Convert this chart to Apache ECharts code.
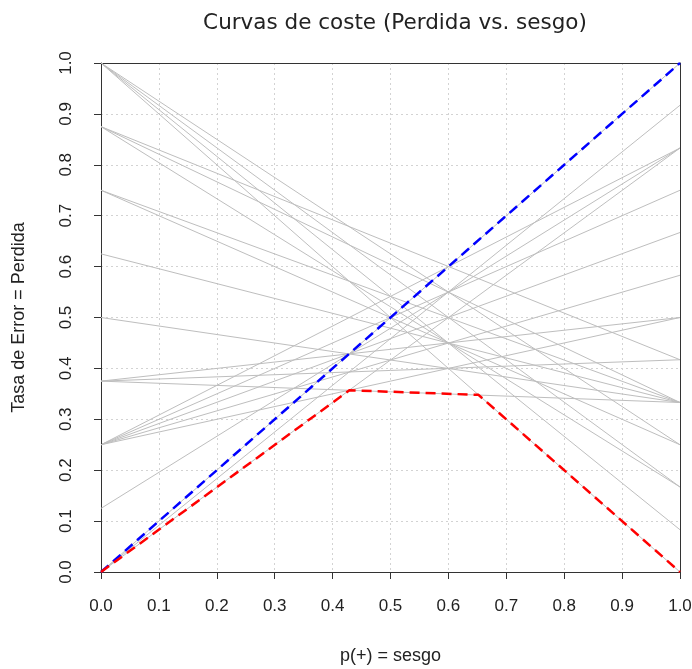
<!DOCTYPE html>
<html>
<head>
<meta charset="utf-8">
<script src="https://cdn.jsdelivr.net/npm/echarts@6/dist/echarts.min.js"></script>
<style>
  html, body { margin: 0; padding: 0; background: #fff; }
  #chart { width: 692px; height: 669px; }
</style>
</head>
<body>
<div id="chart"></div>
<script>
// Classifier operating points: loss at p(+)=0 (false positive rate)
// and at p(+)=1 (false negative rate).
const fprValues = [0, 1, 0, 0, 0.125, 0.25, 0.25, 0.25, 0.25, 0.25, 0.375, 0.375, 0.375,
                   0.5, 0.625, 0.75, 0.75, 0.875, 0.875, 0.875, 1, 1, 1];
const fnrValues = [1, 0, 0.833, 0.917, 0.833, 0.833, 0.75, 0.667, 0.583, 0.5, 0.5, 0.417, 0.333,
                   0.333, 0.333, 0.333, 0.25, 0.417, 0.333, 0.167, 0.25, 0.167, 0.083];

// Diagonal reference (always-negative classifier)
const diagX = [0, 1];
const diagY = [0, 1];

// Lower envelope of the cost curves
const envX = [0, 0.429, 0.652, 1];
const envY = [0, 0.357, 0.348, 0];

const chart = echarts.init(document.getElementById('chart'), null, { renderer: 'canvas' });

const series = [];
fprValues.forEach((a, i) => {
  series.push({
    type: 'line',
    data: [[0, a], [1, fnrValues[i]]],
    symbol: 'none',
    silent: true,
    lineStyle: { color: '#bebebe', width: 1 },
    z: 2
  });
});
series.push({
  type: 'line',
  data: diagX.map((x, i) => [x, diagY[i]]),
  symbol: 'none',
  silent: true,
  lineStyle: { color: '#0000ff', width: 2.5, type: [10, 6] },
  z: 4
});
series.push({
  type: 'line',
  data: envX.map((x, i) => [x, envY[i]]),
  symbol: 'none',
  silent: true,
  lineStyle: { color: '#ff0000', width: 2.5, type: [10, 6] },
  z: 5
});

const labelFont = 'Liberation Sans, Arial, sans-serif';

const axisCommon = {
  type: 'value',
  min: 0,
  max: 1,
  interval: 0.1,
  axisLine: { show: true, onZero: false, lineStyle: { color: '#333', width: 1 } },
  axisTick: { show: true, inside: false, length: 7, lineStyle: { color: '#333' } },
  splitLine: { show: true, showMinLine: false, showMaxLine: false,
               lineStyle: { color: '#d3d3d3', type: [2, 3], width: 1 } },
  axisLabel: {
    color: '#222',
    fontFamily: labelFont,
    fontSize: 17,
    formatter: v => v.toFixed(1)
  },
  nameLocation: 'middle',
  nameTextStyle: { color: '#222', fontFamily: labelFont, fontSize: 18 }
};

// Plain axes on the top and right close the frame around the plot
const frameAxis = {
  type: 'value', min: 0, max: 1,
  axisLine: { show: true, onZero: false, lineStyle: { color: '#333', width: 1 } },
  axisTick: { show: false }, axisLabel: { show: false }, splitLine: { show: false }
};

chart.setOption({
  animation: false,
  backgroundColor: '#ffffff',
  title: {
    text: 'Curvas de coste (Perdida vs. sesgo)',
    left: 390,
    top: 7,
    textAlign: 'center',
    textStyle: { fontFamily: 'DejaVu Sans, sans-serif', fontWeight: 'normal', fontSize: 21.5, color: '#222' }
  },
  grid: { left: 101, right: 12, top: 63, bottom: 97, outerBoundsMode: 'none', containLabel: false },
  xAxis: [
    Object.assign({}, axisCommon, {
      name: 'p(+) = sesgo',
      nameGap: 75,
      axisLabel: Object.assign({}, axisCommon.axisLabel, { margin: 26 })
    }),
    Object.assign({}, frameAxis, { position: 'top' })
  ],
  yAxis: [
    Object.assign({}, axisCommon, {
      name: 'Tasa de Error = Perdida',
      nameGap: 73,
      axisLabel: Object.assign({}, axisCommon.axisLabel, { margin: 26, rotate: 90 })
    }),
    Object.assign({}, frameAxis, { position: 'right' })
  ],
  series: series
});
</script>
</body>
</html>
